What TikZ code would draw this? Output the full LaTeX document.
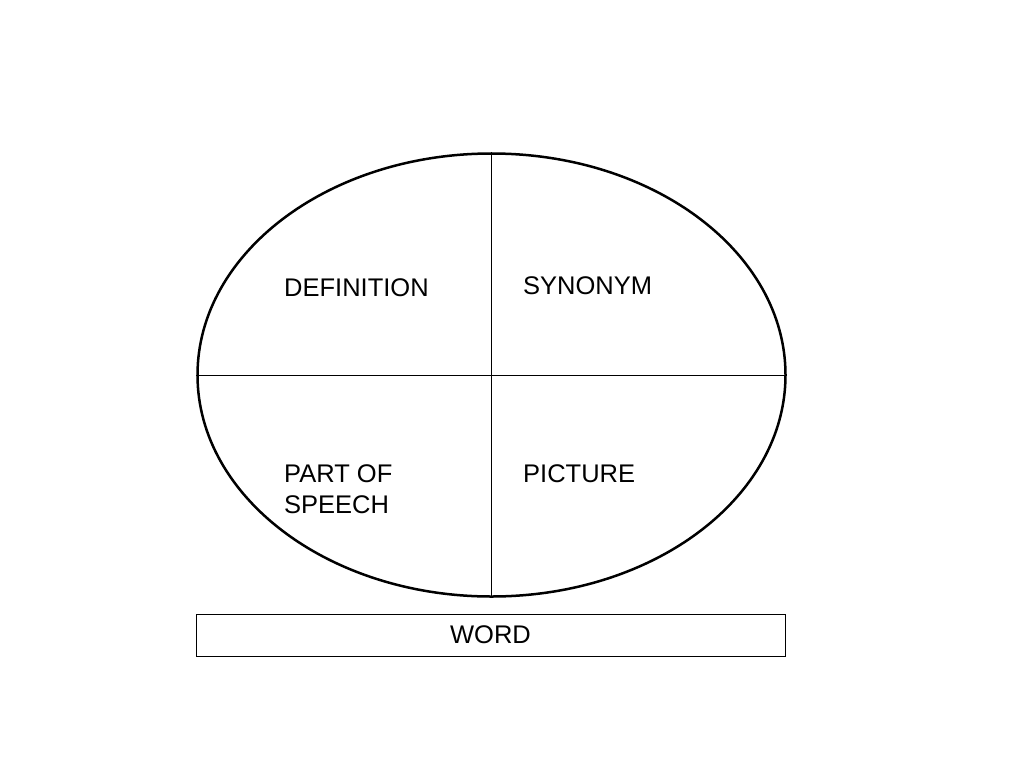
\documentclass[tikz,border=0pt]{standalone}
\usepackage{fontspec}
\setmainfont{Liberation Sans}
\usetikzlibrary{shapes.geometric}
\begin{document}
\begin{tikzpicture}[x=1pt,y=-1pt,
		lbl/.style={anchor=base west,inner sep=0pt,font=\fontsize{25.5}{31}\selectfont}]
			\useasboundingbox(0,0)rectangle(1024,768);
			\node[draw,line width=2.5pt,ellipse,inner sep=0pt,
				minimum width=588pt,minimum height=443pt](oval)at(491.5,375){};
			\draw[line width=1pt](oval.north)--(oval.south);
			\draw[line width=1pt](oval.west)--(oval.east);
			\node[lbl](def)at(284,296){DEFINITION};
			\node[lbl](syn)at(523,294){SYNONYM};
			\node[lbl,align=left,anchor=north west](pos)at(284,464.5){PART OF\\SPEECH};
			\node[lbl](pic)at(523,482.5){PICTURE};
			\node[draw,line width=1pt,minimum width=589pt,minimum height=42pt,
				inner sep=0pt,font=\fontsize{25.5}{31}\selectfont](word)at(490.5,635){WORD};
		\end{tikzpicture}
\end{document}
